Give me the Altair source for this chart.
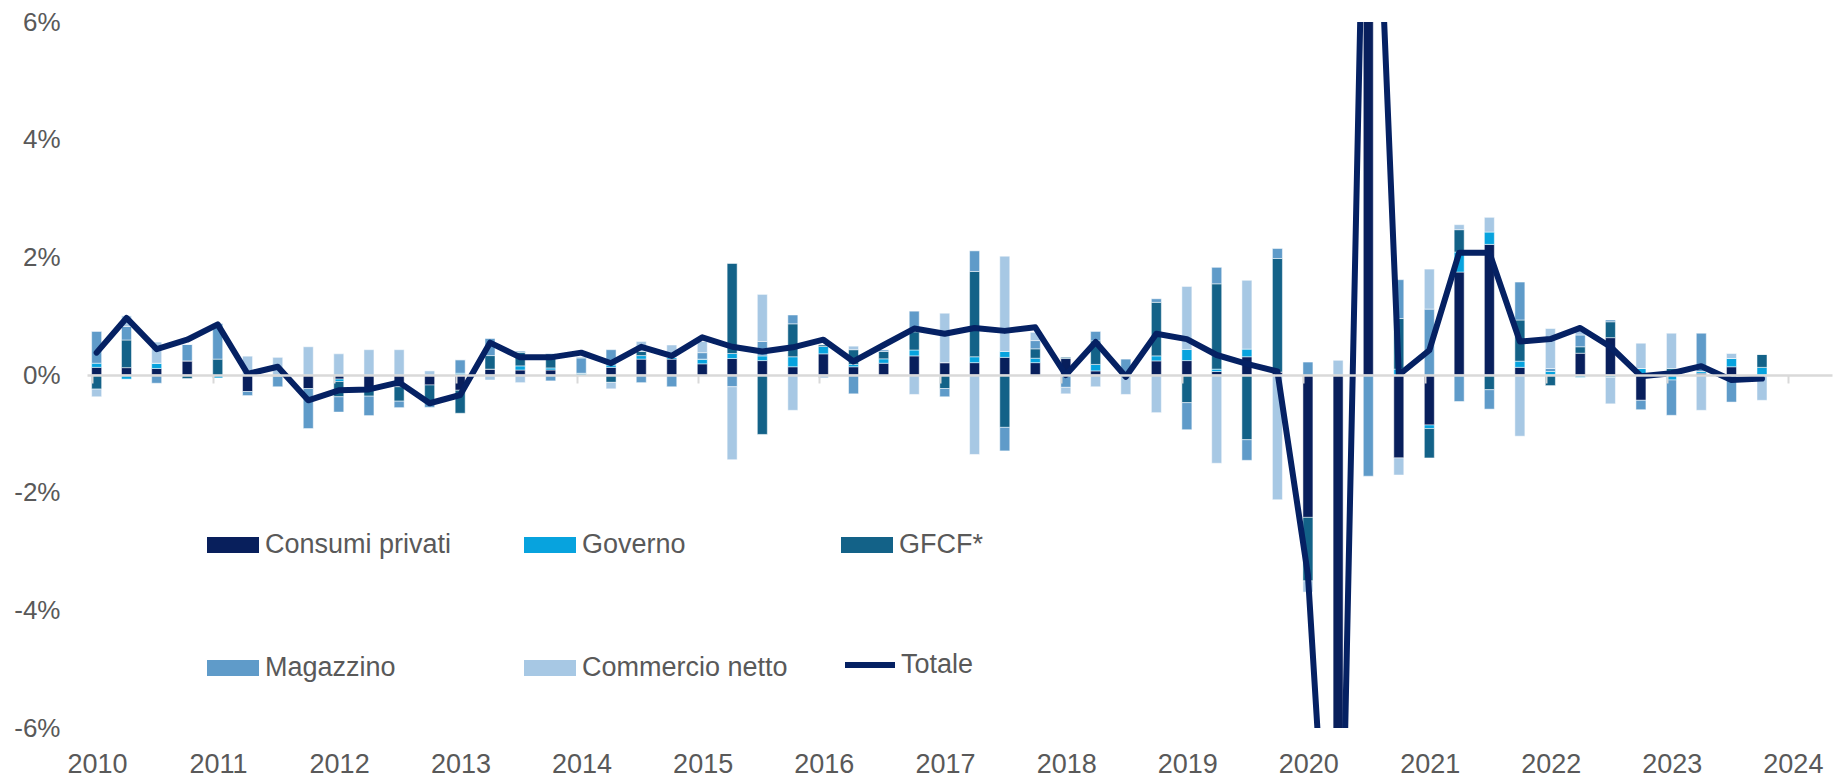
import altair as alt
import pandas as pd

# ---------------- data (percentage points, quarterly contributions) ----------------
years = list(range(2010, 2024))
quarter_days = ["01-15", "04-15", "07-15", "10-15"]

series_names = ["Consumi privati", "Governo", "GFCF*", "Magazzino", "Commercio netto"]
series_colors = ["#081f5c", "#07a3de", "#136288", "#5f9bc9", "#a7c8e4"]
line_name = "Totale"
line_color = "#052163"

consumi = [
    0.13, 0.125, 0.11, 0.24,
    0.00, -0.28, -0.02, -0.23,
    -0.07, -0.26, -0.20, -0.17,
    -0.26, 0.10, 0.085, 0.085,
    0.00, 0.13, 0.27, 0.27,
    0.19, 0.28, 0.245, 0.14,
    0.36, 0.14, 0.20, 0.325,
    0.21, 0.21, 0.30, 0.21,
    0.28, 0.07, 0.00, 0.24,
    0.245, 0.06, 0.31, 0.05,
    -2.42, -7.20, 7.60, -1.41,
    -0.85, 1.75, 2.22, 0.13,
    0.00, 0.37, 0.635, -0.43,
    0.00, 0.03, 0.14, 0.00,
]
governo = [
    0.07, -0.07, 0.09, 0.00,
    -0.05, 0.00, 0.00, 0.00,
    -0.04, 0.00, 0.00, 0.00,
    0.03, 0.00, 0.07, 0.035,
    0.03, 0.04, 0.06, 0.03,
    0.08, 0.085, 0.08, 0.17,
    0.125, 0.04, 0.075, 0.10,
    0.00, 0.10, 0.10, 0.075,
    0.00, 0.11, 0.00, 0.085,
    0.19, 0.04, 0.13, 0.00,
    0.00, -0.10, 0.20, 0.10,
    -0.06, 0.34, 0.21, 0.105,
    0.06, -0.04, -0.04, 0.11,
    -0.085, 0.03, 0.14, 0.13,
]
gfcf = [
    -0.24, 0.47, 0.00, -0.06,
    0.27, 0.00, 0.00, 0.00,
    -0.26, -0.10, -0.245, -0.31,
    -0.39, 0.23, 0.23, 0.24,
    0.00, -0.125, 0.07, 0.00,
    0.00, 1.53, -1.01, 0.56,
    0.03, 0.25, 0.125, 0.31,
    -0.23, 1.45, -0.89, 0.16,
    0.02, 0.40, 0.00, 0.91,
    -0.47, 1.45, -1.10, 1.93,
    -1.08, -3.00, 2.90, 0.86,
    -0.50, 0.38, -0.25, 0.70,
    -0.18, 0.11, 0.27, 0.00,
    0.11, 0.00, 0.00, 0.22,
]
magazzino = [
    0.54, 0.23, -0.14, 0.28,
    0.61, -0.07, -0.18, -0.68,
    -0.26, -0.33, -0.11, -0.07,
    0.23, 0.29, 0.02, -0.10,
    0.26, 0.26, -0.13, -0.20,
    0.11, -0.20, 0.245, 0.15,
    0.00, -0.32, 0.03, 0.35,
    -0.14, 0.35, -0.40, 0.14,
    -0.21, 0.16, 0.27, 0.06,
    -0.46, 0.28, -0.35, 0.17,
    0.22, -1.60, -1.72, 0.66,
    1.12, -0.45, -0.33, 0.645,
    0.05, 0.20, 0.03, -0.16,
    -0.60, 0.65, -0.46, 0.00,
]
commercio = [
    -0.13, 0.18, 0.36, 0.00,
    0.00, 0.32, 0.30, 0.48,
    0.36, 0.43, 0.43, 0.07,
    0.00, -0.085, -0.13, 0.01,
    0.02, -0.11, 0.17, 0.21,
    0.19, -1.24, 0.80, -0.60,
    -0.05, 0.06, 0.00, -0.33,
    0.84, -1.35, 1.62, 0.14,
    -0.11, -0.20, -0.33, -0.64,
    1.07, -1.50, 1.17, -2.12,
    -0.19, 0.25, 3.50, -0.29,
    0.68, 0.085, 0.25, -1.04,
    0.68, 0.10, -0.45, 0.43,
    0.60, -0.60, 0.085, -0.43,
]
totale = [
    0.38, 0.97, 0.44, 0.60,
    0.86, 0.02, 0.14, -0.43,
    -0.26, -0.245, -0.125, -0.48,
    -0.34, 0.55, 0.30, 0.30,
    0.38, 0.20, 0.48, 0.325,
    0.64, 0.48, 0.40, 0.47,
    0.60, 0.23, 0.51, 0.79,
    0.70, 0.80, 0.75, 0.81,
    0.00, 0.56, -0.03, 0.70,
    0.61, 0.34, 0.19, 0.06,
    -3.40, -11.70, 12.50, 0.00,
    0.42, 2.08, 2.08, 0.57,
    0.61, 0.80, 0.48, -0.02,
    0.03, 0.15, -0.085, -0.06,
]

y_ticks = [-6, -4, -2, 0, 2, 4, 6]
x_tick_years = list(range(2010, 2025))

# ---------------- tables ----------------
dates = [f"{y}-{d}" for y in years for d in quarter_days]
series_values = [consumi, governo, gfcf, magazzino, commercio]

rows = []
for s, (name, vals) in enumerate(zip(series_names, series_values)):
    for k, dt in enumerate(dates):
        rows.append({"date": dt, "series": name, "ord": s, "value": vals[k]})
bars_df = pd.DataFrame(rows)
line_df = pd.DataFrame({"date": dates, "value": totale, "series": line_name})

# ---------------- chart ----------------
FONT = "Liberation Sans"
TXT = "#595959"
PLOT_W, PLOT_H = 1745, 706

x_scale = alt.Scale(
    type="utc",
    domain=[alt.DateTime(year=2010, month=1, date=1, utc=True),
            alt.DateTime(year=2024, month=4, date=28, utc=True)],
    nice=False,
)
y_scale = alt.Scale(domain=[-6, 6], nice=False, zero=False)

x_axis = alt.Axis(
    values=[alt.DateTime(year=y, month=1, date=1, utc=True) for y in x_tick_years],
    labelExpr="utcFormat(datum.value, '%Y')",
    offset=-PLOT_H / 2,
    domain=True, domainColor="#d9d9d9", domainWidth=2.5,
    ticks=True, tickColor="#d9d9d9", tickWidth=2, tickSize=8,
    labelPadding=381, labelBaseline="middle", labelFlush=False, labelOverlap=False,
    labelFontSize=27, labelColor=TXT, labelFont=FONT, labelOffset=5,
    grid=False, title=None, zindex=1,
)
y_axis = alt.Axis(
    values=y_ticks, labelExpr="datum.value + '%'",
    domain=False, ticks=False, tickSize=0, grid=False,
    labelPadding=27, labelFontSize=26, labelColor=TXT, labelFont=FONT, title=None,
)

rect_path = "M-1,-0.31H1V0.31H-1Z"
bar_legend = alt.Legend(
    title=None, orient="none", legendX=120, legendY=497,
    direction="horizontal", columns=3, gridAlign="all",
    columnPadding=53, rowPadding=84,
    symbolType=rect_path, symbolSize=2704, symbolStrokeWidth=0,
    labelFontSize=27, labelColor=TXT, labelFont=FONT, labelOffset=6, labelLimit=0,
    padding=0, offset=0,
)
line_legend = alt.Legend(
    title=None, orient="none", legendX=755, legendY=615,
    symbolType="stroke", symbolSize=2500, symbolStrokeWidth=6,
    labelFontSize=27, labelColor=TXT, labelFont=FONT, labelOffset=3, labelLimit=0,
    padding=0, offset=0,
)

bars = alt.Chart(bars_df).mark_bar(size=10, clip=True, stroke="white", strokeWidth=0.5).encode(
    x=alt.X("date:T", scale=x_scale, axis=x_axis),
    y=alt.Y("value:Q", scale=y_scale, axis=y_axis, stack="zero"),
    color=alt.Color("series:N",
                    scale=alt.Scale(domain=series_names, range=series_colors),
                    legend=bar_legend),
    order=alt.Order("ord:Q", sort="ascending"),
)

line = alt.Chart(line_df).mark_line(clip=True, strokeWidth=6, strokeCap="round", strokeJoin="round").encode(
    x=alt.X("date:T", scale=x_scale),
    y=alt.Y("value:Q", scale=y_scale),
    stroke=alt.Stroke("series:N",
                      scale=alt.Scale(domain=[line_name], range=[line_color]),
                      legend=line_legend),
)

chart = alt.layer(bars, line).properties(
    width=PLOT_W, height=PLOT_H,
    autosize=alt.AutoSizeParams(type="none"),
    padding={"left": 79, "top": 14, "right": 5, "bottom": 50},
).configure(font=FONT).configure_view(stroke=None)

chart.save("out.html", embed_options={"renderer": "svg", "actions": False})
